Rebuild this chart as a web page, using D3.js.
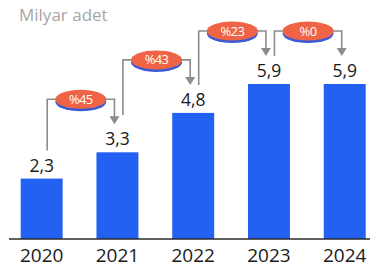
<!DOCTYPE html>
<html>
<head>
<meta charset="utf-8">
<script src="https://cdn.jsdelivr.net/npm/d3@7"></script>
<style>
  html, body { margin: 0; padding: 0; background: #fff; }
  svg { display: block; font-family: "Open Sans", "Noto Sans", sans-serif; }
</style>
</head>
<body>
<svg id="chart" width="375" height="275"></svg>
<script>
// data
const years = ['2020', '2021', '2022', '2023', '2024'];
const values = [2.3, 3.3, 4.8, 5.9, 5.9];
const growth = ['%45', '%43', '%23', '%0'];
const unitLabel = 'Milyar adet';

const width = 375, height = 275;
const baseY = 239;

const svg = d3.select('#chart');

const x = d3.scaleBand()
    .domain(years)
    .range([3.8, 382.6])
    .paddingInner(0.446)
    .paddingOuter(0.223);

const y = d3.scaleLinear()
    .domain([0, 5.9])
    .range([baseY, 84]);

const fmt = v => d3.format('.1f')(v).replace('.', ',');

// unit title
svg.append('text')
    .attr('x', 19)
    .attr('y', 21)
    .attr('fill', '#a6a6a6')
    .style('font-size', '17px')
    .text(unitLabel);

// bars
svg.selectAll('.bar')
    .data(values)
    .enter().append('rect')
    .attr('class', 'bar')
    .attr('x', (d, i) => x(years[i]))
    .attr('y', d => y(d))
    .attr('width', x.bandwidth())
    .attr('height', d => baseY - y(d))
    .attr('fill', '#2361f3');

// value labels
svg.selectAll('.val')
    .data(values)
    .enter().append('text')
    .attr('class', 'val')
    .attr('x', (d, i) => x(years[i]) + x.bandwidth() / 2)
    .attr('y', d => y(d) - 7)
    .attr('text-anchor', 'middle')
    .attr('fill', '#1a1a1a')
    .style('font-size', '17.5px')
    .text(fmt);

// x axis
const axis = svg.append('g')
    .attr('transform', `translate(0,${baseY})`)
    .call(d3.axisBottom(x).tickSize(0).tickPadding(10));
axis.select('.domain').remove();
axis.selectAll('text')
    .attr('fill', '#1a1a1a')
    .style('font-size', '19px')
    .style('font-family', '"Open Sans", "Noto Sans", sans-serif');

svg.append('line')
    .attr('x1', 9).attr('x2', 370)
    .attr('y1', baseY).attr('y2', baseY)
    .attr('stroke', '#2b2b2b')
    .attr('stroke-width', 1.5);

// growth brackets
const cx = i => x(years[i]) + x.bandwidth() / 2;
const labelTop = i => y(values[i]) - 7 - 12;
const grey = '#8c8c8c';

growth.forEach((g, i) => {
    const xa = cx(i) + 5.5;
    const xb = cx(i + 1) - 3;
    const py = y(values[i + 1]) - 53;
    const leftEnd = Math.min(labelTop(i) - 9, py + 55);
    const tip = labelTop(i + 1) - 9;
    const grp = svg.append('g');

    grp.append('path')
        .attr('d', `M${xa},${leftEnd} V${py} H${xb} V${tip - 7}`)
        .attr('fill', 'none')
        .attr('stroke', grey)
        .attr('stroke-width', 1.6);

    grp.append('path')
        .attr('d', `M${xb - 5},${tip - 8} L${xb + 5},${tip - 8} L${xb},${tip} Z`)
        .attr('fill', grey);

    const mx = (xa + xb) / 2;
    grp.append('ellipse')
        .attr('cx', mx).attr('cy', py + 2.5)
        .attr('rx', 25.5).attr('ry', 9.5)
        .attr('fill', '#3b5bd6');
    grp.append('ellipse')
        .attr('cx', mx).attr('cy', py)
        .attr('rx', 25.5).attr('ry', 9.5)
        .attr('fill', '#ef6446');
    grp.append('text')
        .attr('x', mx).attr('y', py + 4.5)
        .attr('text-anchor', 'middle')
        .attr('fill', '#fff')
        .style('font-size', '13px')
        .style('letter-spacing', '-0.6px')
        .text(g);
});
</script>
</body>
</html>
